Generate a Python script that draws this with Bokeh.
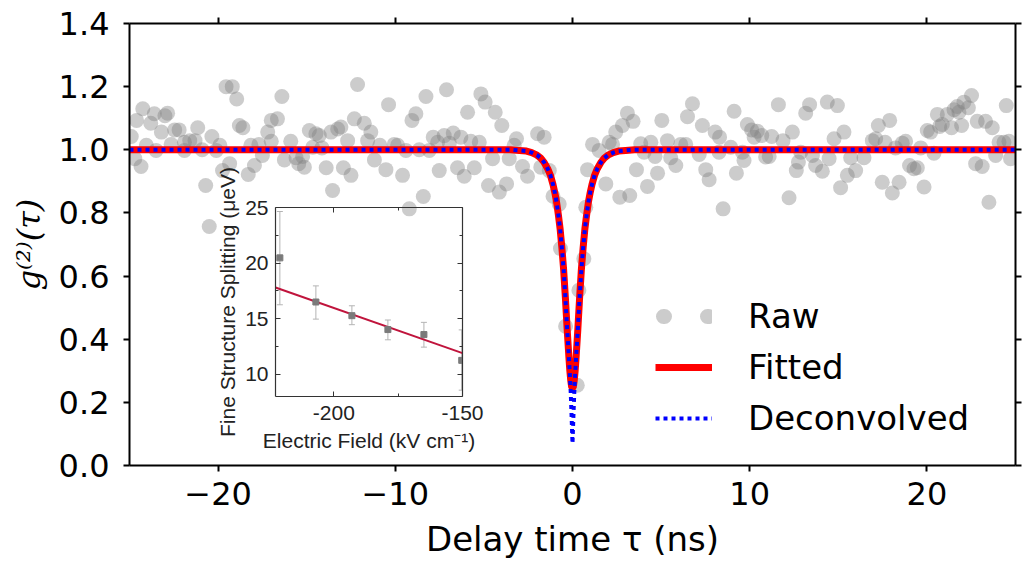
from bokeh.plotting import figure
from bokeh.models import (ColumnDataSource, Range1d, LinearAxis, FixedTicker,
                          CustomJSTickFormatter, NumeralTickFormatter, Legend,
                          LegendItem, Whisker, TeeHead)
from bokeh.embed import file_html
from bokeh.resources import INLINE

# ---- g2 measurement: raw coincidence histogram (normalised) ----
raw_tau = [-24.9, -24.7, -24.6, -24.35, -24.25, -24.05, -23.8, -23.6, -23.5, -23.2,
           -23.0, -22.85, -22.65, -22.45, -22.2, -21.9, -21.9, -21.6, -21.3, -21.15,
           -20.9, -20.7, -20.5, -20.35, -20.1, -19.9, -19.75, -19.55, -19.35, -19.2,
           -18.95, -18.8, -18.6, -18.3, -18.15, -17.95, -17.7, -17.5, -17.2, -17.0,
           -17.0, -16.65, -16.4, -16.26, -15.9, -15.6, -15.45, -15.23, -15.13, -14.85,
           -14.66, -14.48, -14.29, -14.14, -13.9, -13.63, -13.54, -13.25, -13.07, -12.93,
           -12.69, -12.5, -12.31, -12.13, -11.75, -11.56, -11.38, -11.18, -10.87, -10.53,
           -10.38, -10.06, -9.87, -9.59, -9.4, -9.21, -9.06, -8.84, -8.65, -8.42,
           -8.27, -8.08, -7.86, -7.61, -7.52, -7.24, -7.11, -6.95, -6.73, -6.49,
           -6.3, -6.11, -5.92, -5.74, -5.54, -5.26, -5.17, -4.93, -4.74, -4.51,
           -4.36, -4.13, -3.99, -3.72, -3.57, -3.29, -3.16, -2.82, -2.54, -1.97,
           -1.79, -1.6, -1.31, -1.1, -0.75, -0.68, -0.39, 0.27, 0.36, 0.64,
           0.75, 0.85, 1.13, 1.5, 1.88, 2.07, 2.26, 2.44, 2.67, 2.82,
           3.1, 3.23, 3.42, 3.61, 3.85, 4.04, 4.23, 4.42, 4.66, 4.8,
           5.04, 5.36, 5.54, 5.83, 6.11, 6.39, 6.49, 6.77, 7.15, 7.33,
           7.52, 7.71, 8.05, 8.3, 8.27, 8.5, 8.93, 9.12, 9.25, 9.59,
           9.68, 9.87, 10.11, 10.25, 10.43, 10.68, 10.9, 11.1, 11.24, 11.62,
           11.88, 12.22, 12.41, 12.63, 12.75, 12.88, 13.16, 13.38, 13.54, 13.72,
           14.1, 14.38, 14.48, 14.76, 14.95, 15.13, 15.32, 15.51, 15.7, 15.98,
           16.45, 16.92, 17.11, 17.26, 17.48, 17.64, 17.9, 18.05, 18.23, 18.43,
           18.61, 18.8, 19.02, 19.27, 19.46, 19.65, 19.84, 20.02, 20.21, 20.4,
           20.59, 20.72, 20.87, 21.15, 21.39, 21.53, 21.71, 21.81, 21.96, 22.09,
           22.34, 22.52, 22.75, 22.84, 23.12, 23.31, 23.5, 23.69, 23.88, 24.07,
           24.35, 24.48, 24.63, 24.72]
raw_g2 = [1.042, 0.972, 1.093, 0.947, 1.13, 1.014, 1.084, 1.114, 0.998, 1.056,
          1.108, 1.116, 1.017, 1.063, 1.063, 1.024, 0.998, 1.029, 1.029, 1.07,
          1.0, 0.887, 0.757, 1.042, 0.998, 1.014, 0.934, 1.2, 0.956, 1.2,
          1.161, 1.077, 1.07, 0.922, 1.014, 0.95, 1.017, 0.982, 1.056, 1.093,
          1.027, 1.098, 1.169, 0.968, 1.027, 0.975, 0.956, 0.979, 0.945, 1.061,
          1.008, 1.051, 1.045, 1.006, 0.943, 1.056, 0.871, 1.066, 1.072, 0.943,
          1.029, 0.919, 1.098, 1.207, 1.084, 1.029, 1.056, 0.968, 1.014, 0.937,
          1.143, 1.017, 1.014, 0.919, 0.998, 0.813, 1.093, 1.114, 1.0, 0.852,
          1.169, 0.998, 1.04, 1.024, 0.934, 1.045, 1.19, 1.021, 1.053, 0.943,
          1.04, 0.916, 1.119, 1.027, 0.943, 1.024, 1.177, 1.151, 0.887, 0.972,
          1.119, 0.866, 1.077, 0.892, 0.972, 1.014, 1.035, 0.947, 0.916, 1.051,
          0.945, 1.04, 0.934, 0.853, 0.828, 0.687, 0.441, 0.254, 0.555, 0.655,
          0.818, 0.937, 1.017, 0.998, 0.892, 1.024, 1.017, 1.056, 0.85, 1.077,
          1.116, 0.855, 1.09, 0.937, 1.019, 0.992, 0.884, 1.024, 0.979, 0.926,
          1.093, 1.029, 0.975, 0.95, 1.017, 1.017, 1.105, 1.146, 0.985, 1.077,
          0.937, 0.905, 1.056, 1.04, 0.992, 0.813, 1.008, 1.122, 0.926, 0.992,
          0.966, 1.08, 1.063, 1.04, 1.059, 1.045, 0.977, 0.979, 1.042, 1.143,
          1.029, 0.848, 1.056, 0.934, 0.961, 0.992, 1.116, 1.143, 0.982, 0.95,
          0.932, 1.151, 0.972, 1.035, 1.14, 0.88, 1.056, 0.919, 0.975, 0.934,
          0.975, 1.029, 1.035, 1.077, 0.897, 1.024, 1.093, 0.863, 1.006, 0.897,
          1.021, 1.027, 0.95, 0.94, 0.943, 1.006, 0.882, 1.061, 1.056, 0.989,
          1.112, 1.074, 1.08, 1.112, 1.07, 1.127, 1.137, 1.119, 1.077, 1.151,
          1.133, 1.172, 0.956, 1.09, 0.947, 1.09, 0.834, 1.07, 0.982, 1.024,
          1.024, 1.14, 1.027, 0.972]

# fitted curve (includes detector jitter)
fit_tau = [-25.0, -3.5, -3.0, -2.6, -2.3, -2.0, -1.8, -1.6, -1.4, -1.25, -1.1, -1.0,
           -0.9, -0.8, -0.7, -0.6, -0.5, -0.4, -0.3, -0.2, -0.15, -0.1, -0.05, 0.0,
           0.05, 0.1, 0.15, 0.2, 0.3, 0.4, 0.5, 0.6, 0.7, 0.8, 0.9, 1.0,
           1.1, 1.25, 1.4, 1.6, 1.8, 2.0, 2.3, 2.6, 3.0, 3.5, 25.0]
fit_g2 = [1.0, 1.0, 0.998, 0.996, 0.991, 0.983, 0.974, 0.96, 0.94, 0.92, 0.89, 0.865,
          0.835, 0.795, 0.75, 0.69, 0.62, 0.53, 0.43, 0.34, 0.30, 0.27, 0.25, 0.245,
          0.25, 0.27, 0.30, 0.34, 0.43, 0.53, 0.62, 0.69, 0.75, 0.795, 0.835, 0.865,
          0.89, 0.92, 0.94, 0.96, 0.974, 0.983, 0.991, 0.996, 0.998, 1.0, 1.0]

# deconvolved curve (jitter removed)
deconv_tau = [-25.0, -3.5, -3.0, -2.6, -2.3, -2.0, -1.8, -1.6, -1.4, -1.25, -1.1, -1.0,
              -0.9, -0.8, -0.7, -0.6, -0.5, -0.4, -0.3, -0.2, -0.15, -0.1, -0.06, -0.03,
              0.0, 0.03, 0.06, 0.1, 0.15, 0.2, 0.3, 0.4, 0.5, 0.6, 0.7, 0.8,
              0.9, 1.0, 1.1, 1.25, 1.4, 1.6, 1.8, 2.0, 2.3, 2.6, 3.0, 3.5, 25.0]
deconv_g2 = [1.0, 1.0, 0.998, 0.996, 0.991, 0.983, 0.974, 0.96, 0.94, 0.92, 0.89, 0.865,
             0.835, 0.795, 0.75, 0.69, 0.62, 0.53, 0.43, 0.34, 0.29, 0.23, 0.17, 0.12,
             0.07, 0.12, 0.17, 0.23, 0.29, 0.34, 0.43, 0.53, 0.62, 0.69, 0.75, 0.795,
             0.835, 0.865, 0.89, 0.92, 0.94, 0.96, 0.974, 0.983, 0.991, 0.996, 0.998, 1.0, 1.0]

x_ticks = [-20, -10, 0, 10, 20]
y_ticks = [0.0, 0.2, 0.4, 0.6, 0.8, 1.0, 1.2, 1.4]

# ---- inset: fine structure splitting vs electric field ----
field = [-221.0, -207.0, -193.0, -179.0, -165.0, -150.3]
fss = [20.47, 16.5, 15.27, 14.02, 13.57, 11.25]
fss_upper = [24.64, 17.95, 16.16, 14.88, 14.67, 13.99]
fss_lower = [16.25, 14.96, 14.46, 13.1, 12.44, 8.57]
fit_field = [-222.7, -150.0]
fit_fss = [17.81, 11.9]
inset_x_ticks = [-200, -150]
inset_x_minor = [-175]
inset_y_ticks = [10, 15, 20, 25]
inset_y_minor = [12.5, 17.5, 22.5]

blank = CustomJSTickFormatter(code="return '';")

# ================= main figure =================
p = figure(width=1024, height=561, x_range=Range1d(-25, 25), y_range=Range1d(0, 1.4),
           output_backend="svg", toolbar_location=None,
           min_border_left=129, min_border_right=9, min_border_top=23, min_border_bottom=96)
p.grid.visible = False
p.outline_line_color = None
p.background_fill_color = "white"
p.border_fill_color = "white"

p.add_layout(LinearAxis(), "right")
p.add_layout(LinearAxis(), "above")

for ax in p.axis:
    ax.axis_line_color = "black"
    ax.axis_line_width = 2
    ax.major_tick_line_color = "black"
    ax.major_tick_line_width = 2
    ax.major_tick_out = 6
    ax.major_tick_in = 0
    ax.minor_tick_line_color = None
    ax.major_label_text_font = "DejaVu Sans"
    ax.major_label_text_font_size = "32px"
    ax.major_label_text_color = "black"

p.xaxis.ticker = FixedTicker(ticks=x_ticks)
p.yaxis.ticker = FixedTicker(ticks=y_ticks)

xb = p.below[0]
xb.formatter = CustomJSTickFormatter(
    code="return (tick < 0 ? '\u2212' : '') + Math.abs(tick).toFixed(0);")
xb.major_label_standoff = 10
xb.axis_label = "Delay time τ (ns)"
xb.axis_label_text_font = "DejaVu Sans"
xb.axis_label_text_font_size = "34px"
xb.axis_label_text_font_style = "normal"
xb.axis_label_text_color = "black"
xb.axis_label_standoff = 11

yl = p.left[0]
yl.formatter = NumeralTickFormatter(format="0.0")
yl.major_label_standoff = 14
yl.axis_label = "g⁽²⁾(τ)"
yl.axis_label_text_font = "DejaVu Serif"
yl.axis_label_text_font_size = "32px"
yl.axis_label_text_font_style = "italic"
yl.axis_label_text_color = "black"
yl.axis_label_standoff = 8

for ax in (p.right[0], p.above[0]):
    ax.formatter = blank
    ax.major_label_text_font_size = "1px"
    ax.major_label_standoff = 0

raw_r = p.scatter(raw_tau, raw_g2, size=15, fill_color="gray", fill_alpha=0.4,
                  line_color=None)
fit_r = p.line(fit_tau, fit_g2, line_color="red", line_width=7, line_join="round")
dec_r = p.line(deconv_tau, deconv_g2, line_color="blue", line_width=4, line_dash="4 4")

# legend swatch for the raw points: two round dots (a line with no drawable points)
nan = float("nan")
raw_key = p.line([nan, nan], [nan, nan], line_color="gray", line_alpha=0.4, line_width=15,
                 line_cap="round", line_dash="1 43", line_dash_offset=36)

legend = Legend(items=[LegendItem(label="Raw", renderers=[raw_key]),
                       LegendItem(label="Fitted", renderers=[fit_r]),
                       LegendItem(label="Deconvolved", renderers=[dec_r])],
                location=(526, 27), orientation="vertical",
                glyph_width=57, glyph_height=38, label_height=38, label_standoff=36,
                spacing=11, padding=0, margin=0,
                border_line_alpha=0, background_fill_alpha=0,
                label_text_font="DejaVu Sans", label_text_font_size="34px",
                label_text_color="black")
p.add_layout(legend)

# ================= inset =================
inset = figure(width=300, height=308, x_range=Range1d(-222.7, -150), y_range=Range1d(8, 25),
               output_backend="svg", toolbar_location=None,
               min_border_left=75, min_border_right=38, min_border_top=47, min_border_bottom=72,
               background_fill_alpha=0, border_fill_alpha=0,
               styles={"position": "absolute", "left": "200px", "top": "160px"})
inset.grid.visible = False
inset.outline_line_color = None
inset.add_layout(LinearAxis(), "right")
inset.add_layout(LinearAxis(), "above")

for ax in inset.axis:
    ax.axis_line_color = "#333333"
    ax.axis_line_width = 1.2
    ax.major_tick_line_color = "#333333"
    ax.minor_tick_line_color = "#333333"
    ax.major_tick_in = 5
    ax.major_tick_out = 0
    ax.minor_tick_in = 3
    ax.minor_tick_out = 0
    ax.major_label_text_font = "Liberation Sans"
    ax.major_label_text_font_size = "21px"
    ax.major_label_text_color = "#222222"

inset.xaxis.ticker = FixedTicker(ticks=inset_x_ticks, minor_ticks=inset_x_minor)
inset.yaxis.ticker = FixedTicker(ticks=inset_y_ticks, minor_ticks=inset_y_minor)

plain = CustomJSTickFormatter(code="return tick.toFixed(0);")
ib = inset.below[0]
ib.formatter = plain
ib.major_label_standoff = 9
ib.axis_label = "Electric Field (kV cm⁻¹)"
ib.axis_label_standoff = 6
il = inset.left[0]
il.formatter = plain
il.major_label_standoff = 7
il.axis_label = "Fine Structure Splitting (μeV)"
il.axis_label_standoff = 3
for ax in (ib, il):
    ax.axis_label_text_font = "Liberation Sans"
    ax.axis_label_text_font_size = "21px"
    ax.axis_label_text_font_style = "normal"
    ax.axis_label_text_color = "#222222"
for ax in (inset.right[0], inset.above[0]):
    ax.formatter = blank
    ax.major_label_text_font_size = "1px"
    ax.major_label_standoff = 0

src = ColumnDataSource(dict(x=field, y=fss, lo=fss_lower, hi=fss_upper))
err = Whisker(base="x", upper="hi", lower="lo", source=src, level="underlay",
              line_color="#b4b4b4", line_width=1,
              upper_head=TeeHead(size=6, line_color="#b4b4b4", line_width=1),
              lower_head=TeeHead(size=6, line_color="#b4b4b4", line_width=1))
inset.add_layout(err)
inset.line(fit_field, fit_fss, line_color="#c0143c", line_width=2)
inset.scatter("x", "y", source=src, marker="square", size=6,
              fill_color="#7a7a7a", line_color="#7a7a7a")

open("out.html", "w", encoding="utf-8").write(file_html([p, inset], INLINE))
